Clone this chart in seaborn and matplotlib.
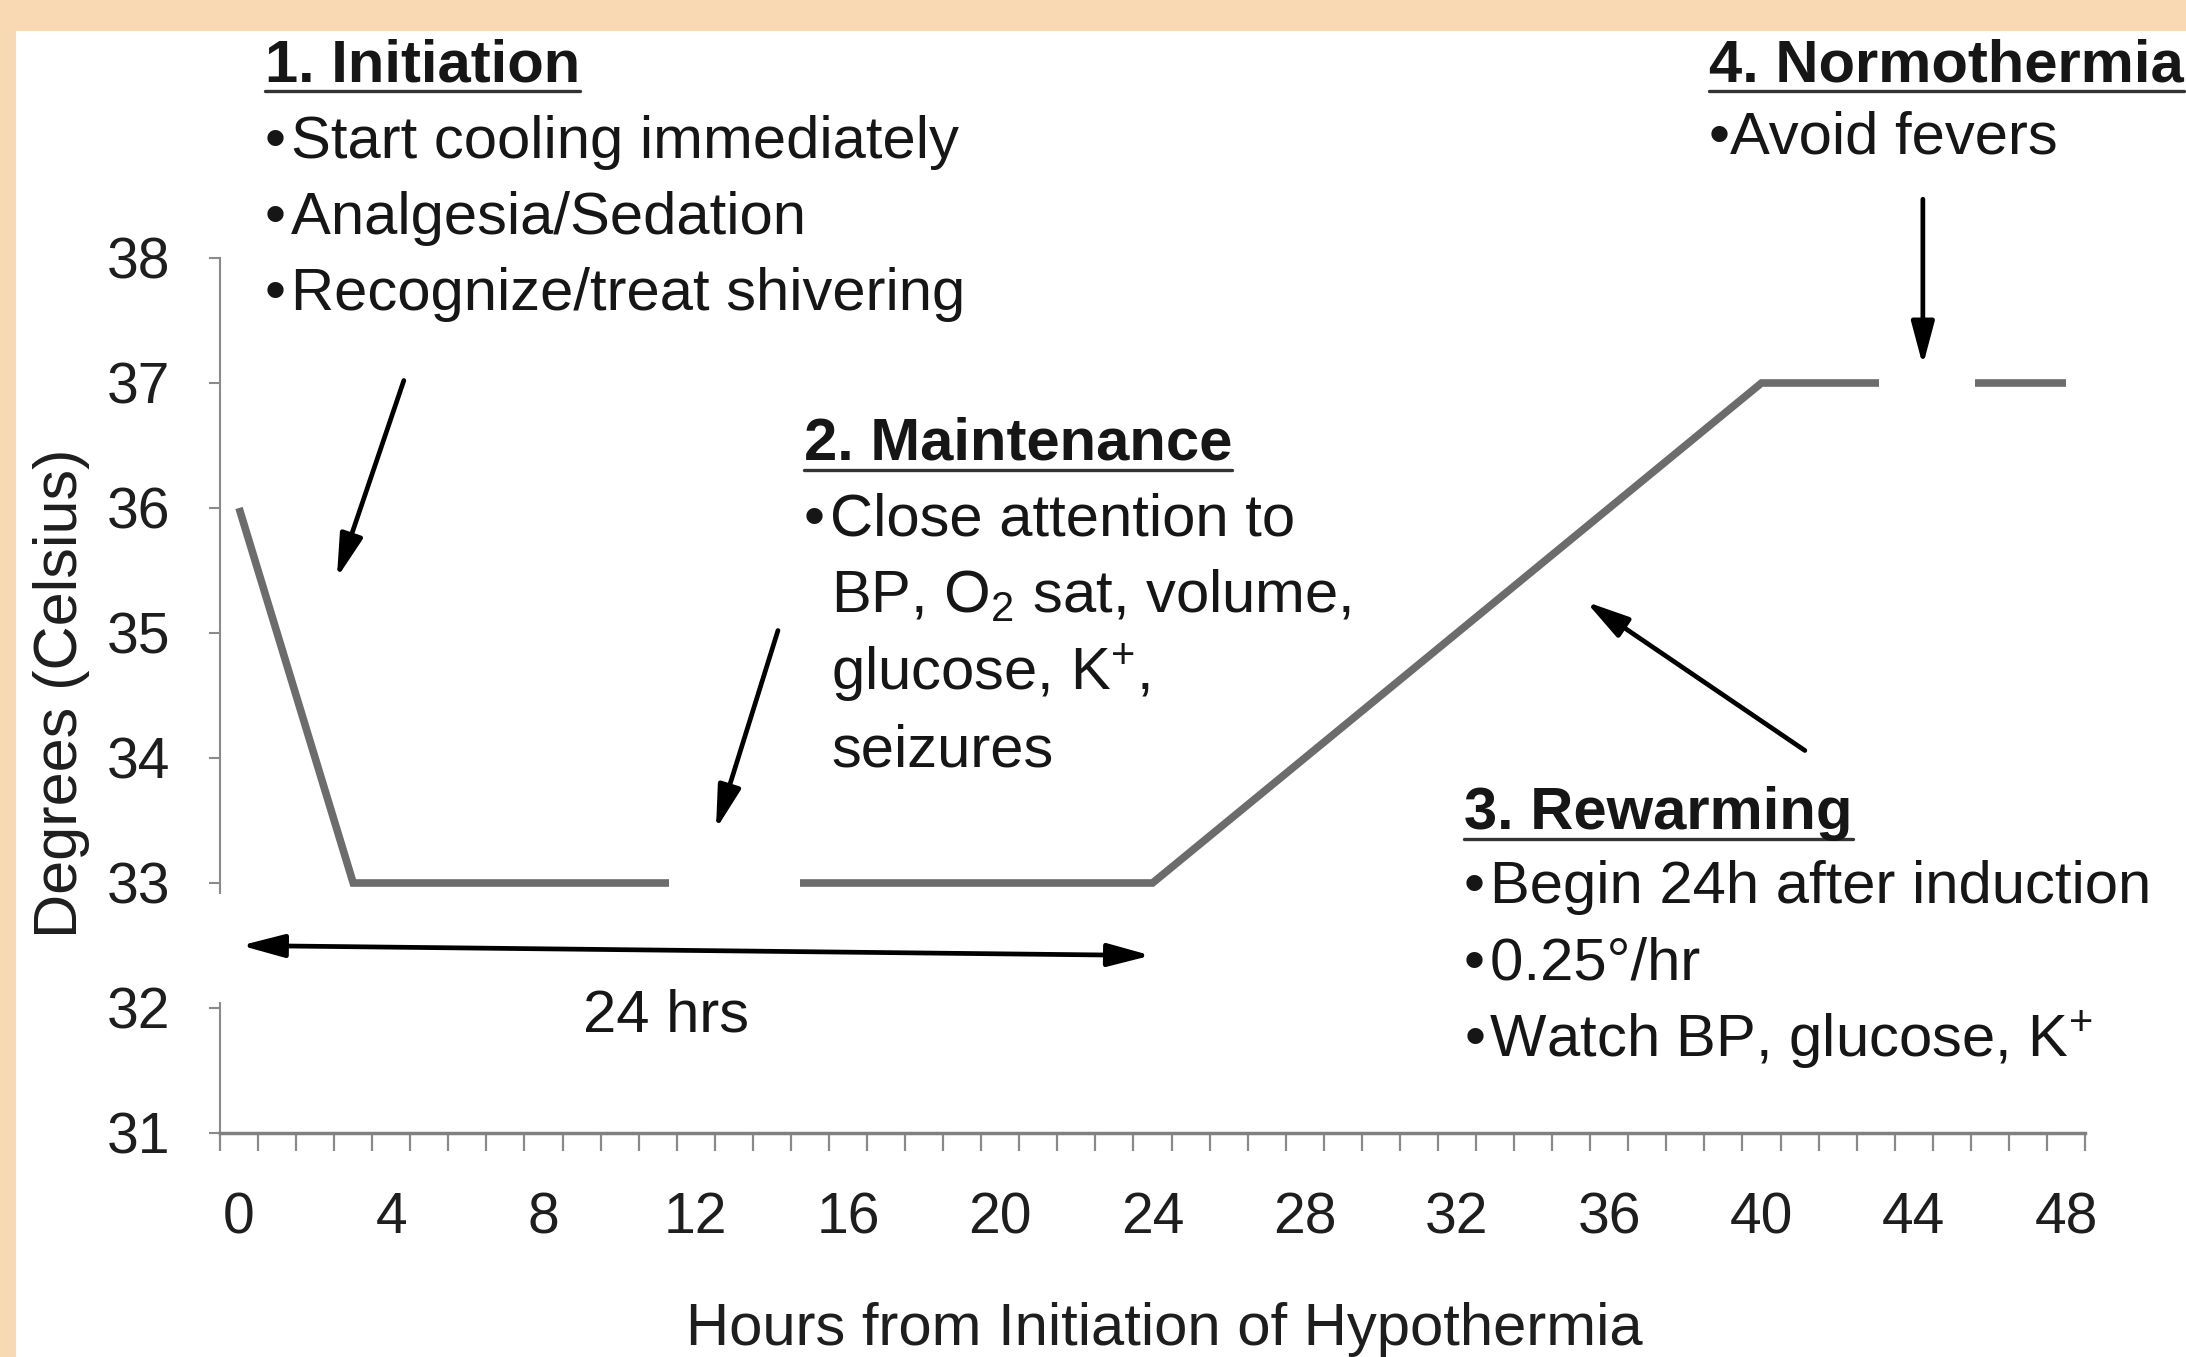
import numpy as np
import pandas as pd
import matplotlib
matplotlib.use("Agg")
import matplotlib.pyplot as plt
import seaborn as sns
from matplotlib.patches import Rectangle
from matplotlib.lines import Line2D
import matplotlib.transforms as mtrans

# ---- data ----
hours = [0, 3, 24, 40, 48]
temps = [36, 33, 33, 37, 37]
x_tick_labels = [0, 4, 8, 12, 16, 20, 24, 28, 32, 36, 40, 44, 48]
y_tick_labels = [31, 32, 33, 34, 35, 36, 37, 38]

sns.set_style("ticks")
plt.rcParams['font.family'] = ['Liberation Sans', 'DejaVu Sans']
plt.rcParams['mathtext.fontset'] = 'custom'
plt.rcParams['mathtext.rm'] = 'Liberation Sans'
plt.rcParams['mathtext.it'] = 'Liberation Sans'
plt.rcParams['mathtext.bf'] = 'Liberation Sans:bold'

W, H = 2186, 1357
fig = plt.figure(figsize=(W / 100, H / 100), dpi=100)
fig.patch.set_facecolor('#F9D9B3')

def fx(x):
    return x / W

def fy(y):
    return 1 - y / H

# white panel
fig.patches.append(Rectangle((fx(16), 0), 1 - fx(16), fy(31), transform=fig.transFigure,
                             facecolor='white', edgecolor='none', zorder=-5))

ax = fig.add_axes([fx(220), fy(1133), fx(2085) - fx(220), fy(258) - fy(1133)])
ax.set_facecolor('none')
ax.set_zorder(1)

df = pd.DataFrame({'Hours': hours, 'Temp': temps})
sns.lineplot(data=df, x='Hours', y='Temp', ax=ax, color='#6c6c6c', linewidth=5.5,
             zorder=3)
for ln in ax.lines:
    ln.set_solid_joinstyle('miter')
    ln.set_solid_capstyle('butt')

ax.set_xlim(-0.5, 48.5)
ax.set_ylim(31, 38)
ax.set_xticks(x_tick_labels)
ax.set_xticklabels([str(v) for v in x_tick_labels])
ax.set_xticks(np.arange(-0.5, 49, 1.0), minor=True)
ax.set_yticks(y_tick_labels)
ax.set_yticklabels([str(v) for v in y_tick_labels])

for s in ['top', 'right']:
    ax.spines[s].set_visible(False)
ax.spines['left'].set_color('#8a8a8a')
ax.spines['left'].set_linewidth(1.5)
ax.spines['bottom'].set_color('#808080')
ax.spines['bottom'].set_linewidth(2.5)

ax.tick_params(axis='x', which='major', length=0, pad=42, labelsize=41, labelcolor='#1e1e1e')
ax.tick_params(axis='x', which='minor', length=13, width=1.6, color='#8a8a8a', direction='out')
ax.tick_params(axis='y', which='major', length=8, width=1.5, color='#8a8a8a', direction='out',
               pad=28, labelsize=41, labelcolor='#1e1e1e')

ax.set_xlabel('')
ax.set_ylabel('')
fig.text(fx(1164), fy(1345), 'Hours from Initiation of Hypothermia', ha='center', va='baseline',
         fontsize=43, color='#1e1e1e')
fig.text(fx(62), fy(693), 'Degrees (Celsius)', ha='center', va='center', rotation=90,
         fontsize=44, color='#1e1e1e')

# white gaps (covered by annotation boxes in the original)
ax.add_patch(Rectangle((11.3, 32.85), 3.45, 0.3, facecolor='white', edgecolor='none', zorder=4))
ax.add_patch(Rectangle((43.1, 36.85), 2.5, 0.3, facecolor='white', edgecolor='none', zorder=4))
blend = mtrans.blended_transform_factory(ax.transAxes, ax.transData)
ax.add_patch(Rectangle((-0.01, 32.05), 0.02, 0.86, transform=blend, facecolor='white',
                       edgecolor='none', zorder=5, clip_on=False))

# arrows
akw = dict(arrowstyle='-|>,head_length=0.75,head_width=0.2', color='black', lw=3.4,
           shrinkA=0, shrinkB=0, mutation_scale=35)
arrows = [((4.33, 37.02), (2.57, 35.44)),
          ((14.16, 35.02), (12.53, 33.43)),
          ((41.14, 34.06), (35.39, 35.25)),
          ((44.24, 38.47), (44.24, 37.14))]
for start, end in arrows:
    ax.annotate('', xy=end, xytext=start, arrowprops=akw, annotation_clip=False, zorder=6)
dkw = dict(akw)
dkw['arrowstyle'] = '<|-|>,head_length=0.75,head_width=0.2'
ax.annotate('', xy=(23.96, 32.42), xytext=(0.05, 32.50), arrowprops=dkw,
            annotation_clip=False, zorder=6)

# annotation text
FS = 43
TC = '#161616'
headings = []

def heading(x, y, s):
    t = fig.text(fx(x), fy(y), s, ha='left', va='baseline', fontsize=FS,
                 fontweight='bold', color=TC, zorder=3)
    headings.append((t, y))

def line(x, y, s):
    fig.text(fx(x), fy(y), s, ha='left', va='baseline', fontsize=FS, color=TC, zorder=3)

B = '\u2022\u200a'
heading(265, 81, '1. Initiation')
line(265, 158, B + 'Start cooling immediately')
line(265, 234, B + 'Analgesia/Sedation')
line(265, 310, B + 'Recognize/treat shivering')

heading(804, 460, '2. Maintenance')
line(804, 535, B + 'Close attention to')
line(831, 613, r'BP, O$_{2}$ sat, volume,')
line(831, 690, r'glucose, K$^{+}$,')
line(831, 767, 'seizures')

heading(1464, 829, '3. Rewarming')
line(1464, 903, B + 'Begin 24h after induction')
line(1464, 980, B + '0.25\u00b0/hr')
line(1464, 1057, B + r'Watch BP, glucose, K$^{+}$')

heading(1709, 81, '4. Normothermia')
line(1709, 153, '\u2022Avoid fevers')

line(583, 1032, '24 hrs')

# underline headings
fig.canvas.draw()
inv = fig.transFigure.inverted()
for t, yb in headings:
    bb = t.get_window_extent()
    x0, x1 = bb.x0, bb.x1
    ypix = H - (yb + 10)
    p0 = inv.transform((x0, ypix))
    p1 = inv.transform((x1, ypix))
    fig.add_artist(Line2D([p0[0], p1[0]], [p0[1], p1[1]], transform=fig.transFigure,
                          color='#333333', lw=2.4, zorder=3))

fig.savefig('out.png', dpi=100, facecolor=fig.get_facecolor())
